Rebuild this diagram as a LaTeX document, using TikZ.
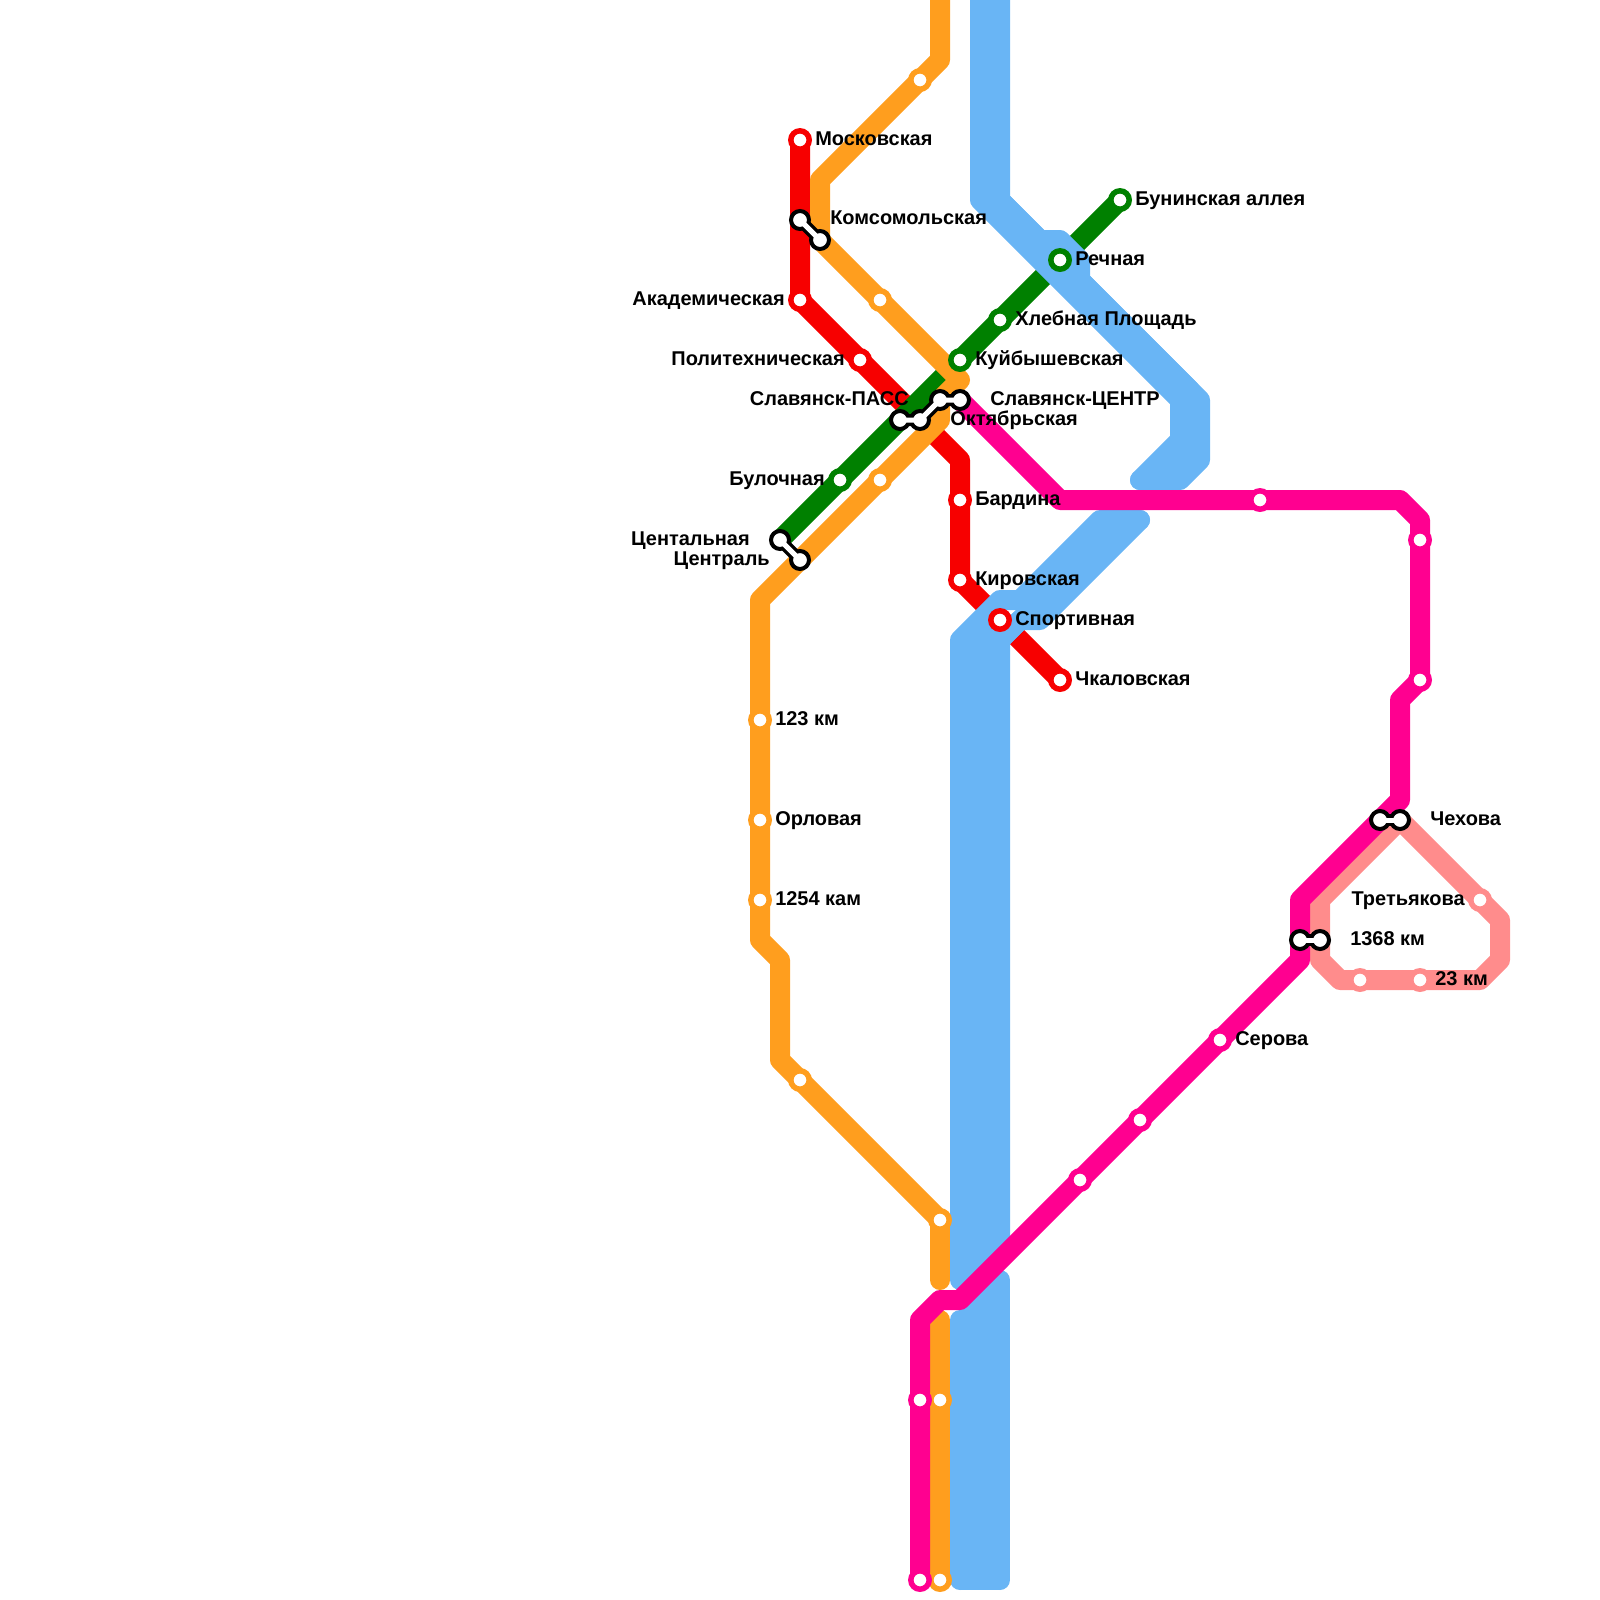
\documentclass[tikz,border=0pt]{standalone}
\usepackage{fontspec}
\setmainfont{Liberation Sans}
\definecolor{redline}{HTML}{F70000}
\definecolor{orangeline}{HTML}{FF9E1E}
\definecolor{greenline}{HTML}{008000}
\definecolor{blueline}{HTML}{69B5F5}
\definecolor{magentaline}{HTML}{FF0090}
\definecolor{pinkline}{HTML}{FF8C8C}
\tikzset{
	metro/.style={line width=5mm, line cap=round, line join=round},
	stn/.style={circle, fill=white, draw=#1, line width=1.375mm, minimum size=4.6mm, inner sep=0pt},
	xfer/.style={circle, fill=white, draw=black, line width=1mm, minimum size=4.5mm, inner sep=0pt},
	linkback/.style={black, line width=3mm},
	linkfront/.style={white, line width=1.25mm},
	lblr/.style={anchor=base west, inner sep=0pt, font=\fontsize{14.2}{16}\selectfont\bfseries},
	lbll/.style={anchor=base east, inner sep=0pt, font=\fontsize{14.2}{16}\selectfont\bfseries},
}
\begin{document}
\begin{tikzpicture}[x=5mm, y=-5mm]
	\useasboundingbox (0,0) rectangle (80,80);
	% станции
	\coordinate (moskovskaya) at (40,7);
	\coordinate (komsA) at (40,11);
	\coordinate (komsB) at (41,12);
	\coordinate (akadem) at (40,15);
	\coordinate (politeh) at (43,18);
	\coordinate (bardina) at (48,25);
	\coordinate (kirov) at (48,29);
	\coordinate (sport) at (50,31);
	\coordinate (chkalov) at (53,34);
	\coordinate (bunin) at (56,10);
	\coordinate (rechnaya) at (53,13);
	\coordinate (hleb) at (50,16);
	\coordinate (kuib) at (48,18);
	\coordinate (slavA) at (45,21);
	\coordinate (slavB) at (46,21);
	\coordinate (slavC) at (47,20);
	\coordinate (slavD) at (48,20);
	\coordinate (bulochn) at (42,24);
	\coordinate (centA) at (39,27);
	\coordinate (centB) at (40,28);
	\coordinate (orangeA) at (46,4);
	\coordinate (orangeB) at (44,15);
	\coordinate (orangeC) at (44,24);
	\coordinate (km123) at (38,36);
	\coordinate (orlov) at (38,41);
	\coordinate (km1254) at (38,45);
	\coordinate (orangeD) at (40,54);
	\coordinate (orangeE) at (47,61);
	\coordinate (orangeF) at (47,70);
	\coordinate (orangeG) at (47,79);
	\coordinate (magA) at (63,25);
	\coordinate (magB) at (71,27);
	\coordinate (magC) at (71,34);
	\coordinate (chehA) at (69,41);
	\coordinate (chehB) at (70,41);
	\coordinate (kmA) at (65,47);
	\coordinate (kmB) at (66,47);
	\coordinate (serova) at (61,52);
	\coordinate (magD) at (57,56);
	\coordinate (magE) at (54,59);
	\coordinate (magF) at (46,70);
	\coordinate (magG) at (46,79);
	\coordinate (tretyak) at (74,45);
	\coordinate (pinkA) at (71,49);
	\coordinate (pinkB) at (68,49);

	% линии
	\draw[metro, redline] (moskovskaya) -- (komsA) -- (akadem) -- (politeh) -- (48,23) -- (bardina) -- (kirov) -- (sport) -- (chkalov);
	\draw[metro, greenline] (centA) -- (bulochn) -- (slavA) -- (kuib) -- (hleb) -- (rechnaya) -- (bunin);
	\draw[metro, orangeline] (47,0) -- (47,3) -- (orangeA) -- (41,9) -- (komsB) -- (orangeB) -- (48,19) -- (47,20) -- (47,21) -- (orangeC) -- (centB) -- (38,30) -- (km123) -- (orlov) -- (km1254) -- (38,47) -- (39,48) -- (39,53) -- (orangeD) -- (orangeE) -- (47,64);
	\draw[metro, orangeline] (47,66) -- (orangeF) -- (orangeG);
	% верхний участок
	\draw[blueline, line width=2mm] (49.5,0) -- (49.5,10);
	\draw[metro, blueline] (49,0) -- (49,10) -- (59,20) -- (59,22) -- (57,24);
	\draw[metro, blueline] (50,0) -- (50,10) -- (52,12) -- (53,12) -- (54,13) -- (54,14) -- (60,20) -- (60,23) -- (59,24) -- (57,24);
	\draw[metro, blueline] (50,10) -- (54,14) -- (59.5,19.5) -- (59.5,22.5) -- (58,24);
	% нижний участок
	\draw[blueline, line width=10mm] (49,79.5) -- (49,32);
	\draw[metro, blueline] (48,79) -- (48,66);
	\draw[metro, blueline] (48,64) -- (48,32) -- (50,30) -- (51,30) -- (55,26) -- (57,26);
	\draw[metro, blueline] (49,32) -- (50,31);
	\draw[metro, blueline] (50,79) -- (50,64);
	\draw[metro, blueline] (50,62) -- (50,32) -- (51,31) -- (52,31) -- (57,26);
	\draw[metro, blueline] (50,32) -- (56,26);
	\draw[metro, pinkline] (chehB) -- (tretyak) -- (75,46) -- (75,48) -- (74,49) -- (pinkA) -- (pinkB) -- (67,49) -- (66,48) -- (kmB) -- (66,45) -- cycle;
	\draw[metro, magentaline] (slavD) -- (53,25) -- (magA) -- (70,25) -- (71,26) -- (magB) -- (magC) -- (70,35) -- (70,40) -- (chehA) -- (65,45) -- (kmA) -- (65,48) -- (serova) -- (magD) -- (magE) -- (48,65) -- (47,65) -- (46,66) -- (magF) -- (magG);

	% пересадки
	\draw[linkback] (komsA) -- (komsB);
	\draw[linkback] (centA) -- (centB);
	\draw[linkback] (slavA) -- (slavB) -- (slavC) -- (slavD);
	\draw[linkback] (chehA) -- (chehB);
	\draw[linkback] (kmA) -- (kmB);

	% красная
	\node[stn=redline] (s-moskovskaya) at (moskovskaya) {};
	\node[stn=redline] (s-akadem) at (akadem) {};
	\node[stn=redline] (s-politeh) at (politeh) {};
	\node[stn=redline] (s-bardina) at (bardina) {};
	\node[stn=redline] (s-kirov) at (kirov) {};
	\node[stn=redline] (s-sport) at (sport) {};
	\node[stn=redline] (s-chkalov) at (chkalov) {};
	% зеленая
	\node[stn=greenline] (s-bunin) at (bunin) {};
	\node[stn=greenline] (s-rechnaya) at (rechnaya) {};
	\node[stn=greenline] (s-hleb) at (hleb) {};
	\node[stn=greenline] (s-kuib) at (kuib) {};
	\node[stn=greenline] (s-bulochn) at (bulochn) {};
	% оранжевая
	\node[stn=orangeline] (s-orangeA) at (orangeA) {};
	\node[stn=orangeline] (s-orangeB) at (orangeB) {};
	\node[stn=orangeline] (s-orangeC) at (orangeC) {};
	\node[stn=orangeline] (s-km123) at (km123) {};
	\node[stn=orangeline] (s-orlov) at (orlov) {};
	\node[stn=orangeline] (s-km1254) at (km1254) {};
	\node[stn=orangeline] (s-orangeD) at (orangeD) {};
	\node[stn=orangeline] (s-orangeE) at (orangeE) {};
	\node[stn=orangeline] (s-orangeF) at (orangeF) {};
	\node[stn=orangeline] (s-orangeG) at (orangeG) {};
	% малиновая
	\node[stn=magentaline] (s-magA) at (magA) {};
	\node[stn=magentaline] (s-magB) at (magB) {};
	\node[stn=magentaline] (s-magC) at (magC) {};
	\node[stn=magentaline] (s-serova) at (serova) {};
	\node[stn=magentaline] (s-magD) at (magD) {};
	\node[stn=magentaline] (s-magE) at (magE) {};
	\node[stn=magentaline] (s-magF) at (magF) {};
	\node[stn=magentaline] (s-magG) at (magG) {};
	% розовая
	\node[stn=pinkline] (s-tretyak) at (tretyak) {};
	\node[stn=pinkline] (s-pinkA) at (pinkA) {};
	\node[stn=pinkline] (s-pinkB) at (pinkB) {};

	\node[xfer] (x-komsA) at (komsA) {};
	\node[xfer] (x-komsB) at (komsB) {};
	\node[xfer] (x-centA) at (centA) {};
	\node[xfer] (x-centB) at (centB) {};
	\node[xfer] (x-slavA) at (slavA) {};
	\node[xfer] (x-slavB) at (slavB) {};
	\node[xfer] (x-slavC) at (slavC) {};
	\node[xfer] (x-slavD) at (slavD) {};
	\node[xfer] (x-chehA) at (chehA) {};
	\node[xfer] (x-chehB) at (chehB) {};
	\node[xfer] (x-kmA) at (kmA) {};
	\node[xfer] (x-kmB) at (kmB) {};
	\draw[linkfront] (x-komsA.center) -- (x-komsB.center);
	\draw[linkfront] (x-centA.center) -- (x-centB.center);
	\draw[linkfront] (x-slavA.center) -- (x-slavB.center) -- (x-slavC.center) -- (x-slavD.center);
	\draw[linkfront] (x-chehA.center) -- (x-chehB.center);
	\draw[linkfront] (x-kmA.center) -- (x-kmB.center);

	% подписи
	\node[lblr] (l-moskovskaya) at (40.75,7.27) {Московская};
	\node[lblr] (l-koms) at (41.5,11.22) {Комсомольская};
	\node[lbll] (l-akadem) at (39.25,15.27) {Академическая};
	\node[lbll] (l-politeh) at (42.25,18.27) {Политехническая};
	\node[lbll] (l-slavpass) at (45.45,20.27) {Славянск-ПАСС};
	\node[lblr] (l-slavcentr) at (49.5,20.27) {Славянск-ЦЕНТР};
	\node[lblr] (l-oktyabr) at (47.5,21.27) {Октябрьская};
	\node[lbll] (l-bulochn) at (41.25,24.27) {Булочная};
	\node[lbll] (l-centA) at (37.5,27.27) {Центальная};
	\node[lbll] (l-centB) at (38.5,28.27) {Централь};
	\node[lblr] (l-bunin) at (56.75,10.27) {Бунинская аллея};
	\node[lblr] (l-rechnaya) at (53.75,13.27) {Речная};
	\node[lblr] (l-hleb) at (50.75,16.27) {Хлебная Площадь};
	\node[lblr] (l-kuib) at (48.75,18.27) {Куйбышевская};
	\node[lblr] (l-bardina) at (48.75,25.27) {Бардина};
	\node[lblr] (l-kirov) at (48.75,29.27) {Кировская};
	\node[lblr] (l-sport) at (50.75,31.27) {Спортивная};
	\node[lblr] (l-chkalov) at (53.75,34.27) {Чкаловская};
	\node[lblr] (l-km123) at (38.75,36.27) {123 км};
	\node[lblr] (l-orlov) at (38.75,41.27) {Орловая};
	\node[lblr] (l-km1254) at (38.75,45.27) {1254 кам};
	\node[lblr] (l-cheh) at (71.5,41.27) {Чехова};
	\node[lbll] (l-tretyak) at (73.25,45.27) {Третьякова};
	\node[lblr] (l-km1368) at (67.5,47.27) {1368 км};
	\node[lblr] (l-km23) at (71.75,49.27) {23 км};
	\node[lblr] (l-serova) at (61.75,52.27) {Серова};
\end{tikzpicture}
\end{document}
